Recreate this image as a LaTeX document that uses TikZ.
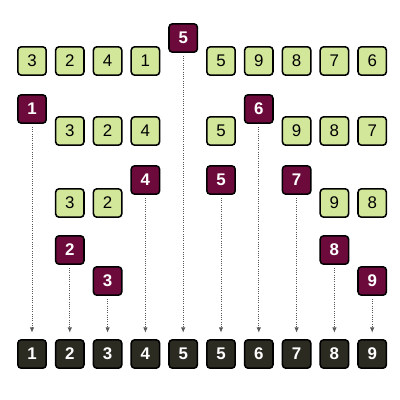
\documentclass[tikz,border=0pt]{standalone}
\usepackage{fontspec}
\setmainfont{Liberation Sans}
\usetikzlibrary{arrows.meta,shadows}

\definecolor{keygreen}{HTML}{D3E79B}
\definecolor{pivotred}{HTML}{6D0A3C}
\definecolor{donegray}{HTML}{2B2B22}

\begin{document}
\begin{tikzpicture}[x=0.025cm,y=-0.025cm,line width=1.1pt,>={Latex[length=1.3mm,width=1.1mm]},
  key/.style={draw=black,fill=keygreen,rounded corners=2.5pt,minimum size=0.71cm,inner sep=0pt,
    font=\fontsize{12}{14}\selectfont,drop shadow={opacity=0.2,shadow xshift=0.4pt,shadow yshift=-0.4pt}},
  pivot/.style={key,fill=pivotred,text=white,font=\fontsize{12}{14}\selectfont\bfseries},
  sorted/.style={pivot,fill=donegray},
  drop/.style={->,densely dotted,draw=gray!70!black,line width=0.6pt,shorten <=2pt,shorten >=4.5pt}]
  \useasboundingbox (0,0) rectangle (400,400);
  % unsorted input
  \node[key] (a1) at (32,61){3};   \node[key] (a2) at (69.8,61){2};
  \node[key] (a3) at (107.6,61){4}; \node[key] (a4) at (145.4,61){1};
  \node[pivot] (p5) at (183.2,38){5};
  \node[key] (a6) at (221,61){5};  \node[key] (a7) at (258.8,61){9};
  \node[key] (a8) at (296.6,61){8}; \node[key] (a9) at (334.4,61){7};
  \node[key] (a10) at (372.2,61){6};
  % second level
  \node[pivot] (p1) at (32,109){1};
  \node[key] (b2) at (69.8,131){3}; \node[key] (b3) at (107.6,131){2};
  \node[key] (b4) at (145.4,131){4};
  \node[key] (b6) at (221,131){5};
  \node[pivot] (p6) at (258.8,109){6};
  \node[key] (b8) at (296.6,131){9}; \node[key] (b9) at (334.4,131){8};
  \node[key] (b10) at (372.2,131){7};
  % third level
  \node[key] (c2) at (69.8,203){3}; \node[key] (c3) at (107.6,203){2};
  \node[pivot] (p4) at (145.4,180){4};
  \node[pivot] (q5) at (221,180){5};
  \node[pivot] (p7) at (296.6,180){7};
  \node[key] (c9) at (334.4,203){9}; \node[key] (c10) at (372.2,203){8};
  % last pivots
  \node[pivot] (p2) at (69.8,250){2};
  \node[pivot] (p3) at (107.6,281){3};
  \node[pivot] (p8) at (334.4,250){8};
  \node[pivot] (p9) at (372.2,281){9};
  % sorted output
  \node[sorted] (s1) at (32,354){1};    \node[sorted] (s2) at (69.8,354){2};
  \node[sorted] (s3) at (107.6,354){3}; \node[sorted] (s4) at (145.4,354){4};
  \node[sorted] (s5) at (183.2,354){5}; \node[sorted] (s6) at (221,354){5};
  \node[sorted] (s7) at (258.8,354){6}; \node[sorted] (s8) at (296.6,354){7};
  \node[sorted] (s9) at (334.4,354){8}; \node[sorted] (s10) at (372.2,354){9};
  % pivots drop into place
  \draw[drop] (p1)--(s1);  \draw[drop] (p2)--(s2);
  \draw[drop] (p3)--(s3);  \draw[drop] (p4)--(s4);
  \draw[drop] (p5)--(s5);  \draw[drop] (q5)--(s6);
  \draw[drop] (p6)--(s7);  \draw[drop] (p7)--(s8);
  \draw[drop] (p8)--(s9);  \draw[drop] (p9)--(s10);
\end{tikzpicture}
\end{document}
